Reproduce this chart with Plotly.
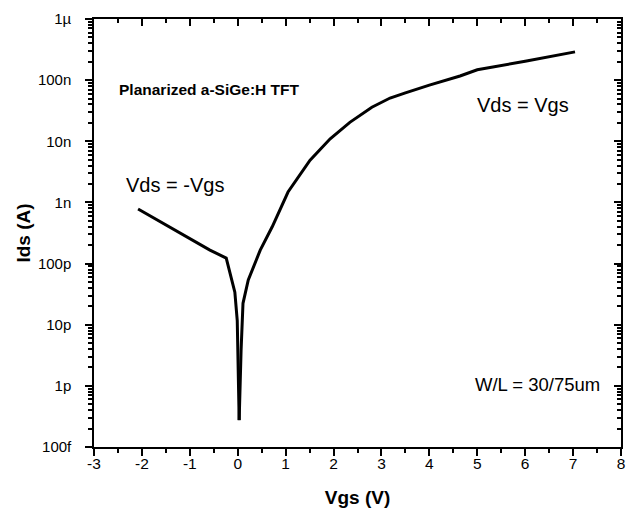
import plotly.graph_objects as go

# Vds = -Vgs branch
vgs_neg = [-2.08, -1.62, -1.06, -0.58, -0.24, -0.12, -0.06, -0.01, 0.01, 0.03]
ids_neg = [7.8e-10, 4.9e-10, 2.7e-10, 1.66e-10, 1.23e-10, 5.4e-11, 3.4e-11, 1.17e-11, 2.6e-12, 2.75e-13]

# Vds = Vgs branch
vgs_pos = [0.03, 0.05, 0.07, 0.11, 0.22, 0.47, 0.72, 1.05, 1.51, 1.93, 2.34, 2.8, 3.18, 3.5, 4.0,
           4.64, 5.0, 6.0, 7.04]
ids_pos = [2.75e-13, 1.23e-12, 3.8e-12, 2.24e-11, 5.4e-11, 1.66e-10, 4.0e-10, 1.48e-9, 4.9e-9,
           1.1e-8, 2.04e-8, 3.6e-8, 5.1e-8, 6.2e-8, 8.3e-8, 1.17e-7, 1.48e-7, 2.04e-7, 2.9e-7]

x_ticks = [-3, -2, -1, 0, 1, 2, 3, 4, 5, 6, 7, 8]
x_ticktext = ["-3", "-2", "-1", "0", "1", "2", "3", "4", "5", "6", "7", "8"]
y_tickvals = [1e-13, 1e-12, 1e-11, 1e-10, 1e-9, 1e-8, 1e-7, 1e-6]
y_ticktext = ["100f", "1p", "10p", "100p", "1n", "10n", "100n", "1\u00b5"]

FONT = "Arial, Liberation Sans, sans-serif"

fig = go.Figure()
fig.add_trace(go.Scatter(x=vgs_neg, y=ids_neg, mode="lines",
                         line=dict(color="black", width=3), showlegend=False))
fig.add_trace(go.Scatter(x=vgs_pos, y=ids_pos, mode="lines",
                         line=dict(color="black", width=3), showlegend=False))
# invisible trace to activate mirrored (inside-tick) axes
fig.add_trace(go.Scatter(x=[x_ticks[0]], y=[y_tickvals[0]], xaxis="x2", yaxis="y2",
                         mode="markers", marker=dict(opacity=0), showlegend=False,
                         hoverinfo="skip"))

axis_common = dict(showgrid=False, zeroline=False, showline=True, linecolor="black",
                   linewidth=1.5, tickcolor="black", tickwidth=1.5, ticklen=7,
                   automargin=False)

fig.update_layout(
    width=626, height=512,
    margin=dict(l=94, r=5, t=19, b=65),
    paper_bgcolor="white", plot_bgcolor="white",
    font=dict(family=FONT, color="black", size=15),
    xaxis=dict(range=[-3, 8], tickvals=x_ticks, ticktext=x_ticktext, ticks="outside",
               minor=dict(ticks="outside", ticklen=4, dtick=0.5, tickcolor="black", tickwidth=1.5),
               tickfont=dict(size=15.5), ticklabelstandoff=-5,
               title=dict(text="<b>Vgs (V)</b>", font=dict(size=19), standoff=19),
               **axis_common),
    yaxis=dict(type="log", range=[-13, -6], tickvals=y_tickvals, ticktext=y_ticktext,
               ticks="outside",
               minor=dict(ticks="outside", ticklen=4, dtick="D1", tickcolor="black", tickwidth=1.5),
               tickfont=dict(size=15), ticklabelstandoff=11,
               title=dict(text="<b>Ids (A)</b>", font=dict(size=19), standoff=2),
               **axis_common),
    xaxis2=dict(range=[-3, 8], overlaying="x", side="top", anchor="y", tickvals=x_ticks,
                ticks="inside", showticklabels=False,
                minor=dict(ticks="inside", ticklen=4, dtick=0.5, tickcolor="black", tickwidth=1.5),
                **axis_common),
    yaxis2=dict(type="log", range=[-13, -6], overlaying="y", side="right", anchor="x",
                tickvals=y_tickvals, ticks="inside", showticklabels=False,
                minor=dict(ticks="inside", ticklen=4, dtick="D1", tickcolor="black", tickwidth=1.5),
                **axis_common),
    annotations=[
        dict(text="<b>Planarized a-SiGe:H TFT</b>", xref="paper", yref="paper",
             x=0.044, y=0.836, xanchor="left", yanchor="middle", showarrow=False,
             font=dict(size=15.5)),
        dict(text="Vds = Vgs", xref="paper", yref="paper", x=0.723, y=0.799,
             xanchor="left", yanchor="middle", showarrow=False, font=dict(size=20)),
        dict(text="Vds = -Vgs", xref="paper", yref="paper", x=0.057, y=0.612,
             xanchor="left", yanchor="middle", showarrow=False, font=dict(size=20)),
        dict(text="W/L = 30/75um", xref="paper", yref="paper", x=0.719, y=0.145,
             xanchor="left", yanchor="middle", showarrow=False, font=dict(size=18.5)),
    ],
)

fig.write_html(
    "out.html",
    config={"displayModeBar": False},
    post_script="document.body.style.margin='0';document.body.style.overflow='hidden';",
)
